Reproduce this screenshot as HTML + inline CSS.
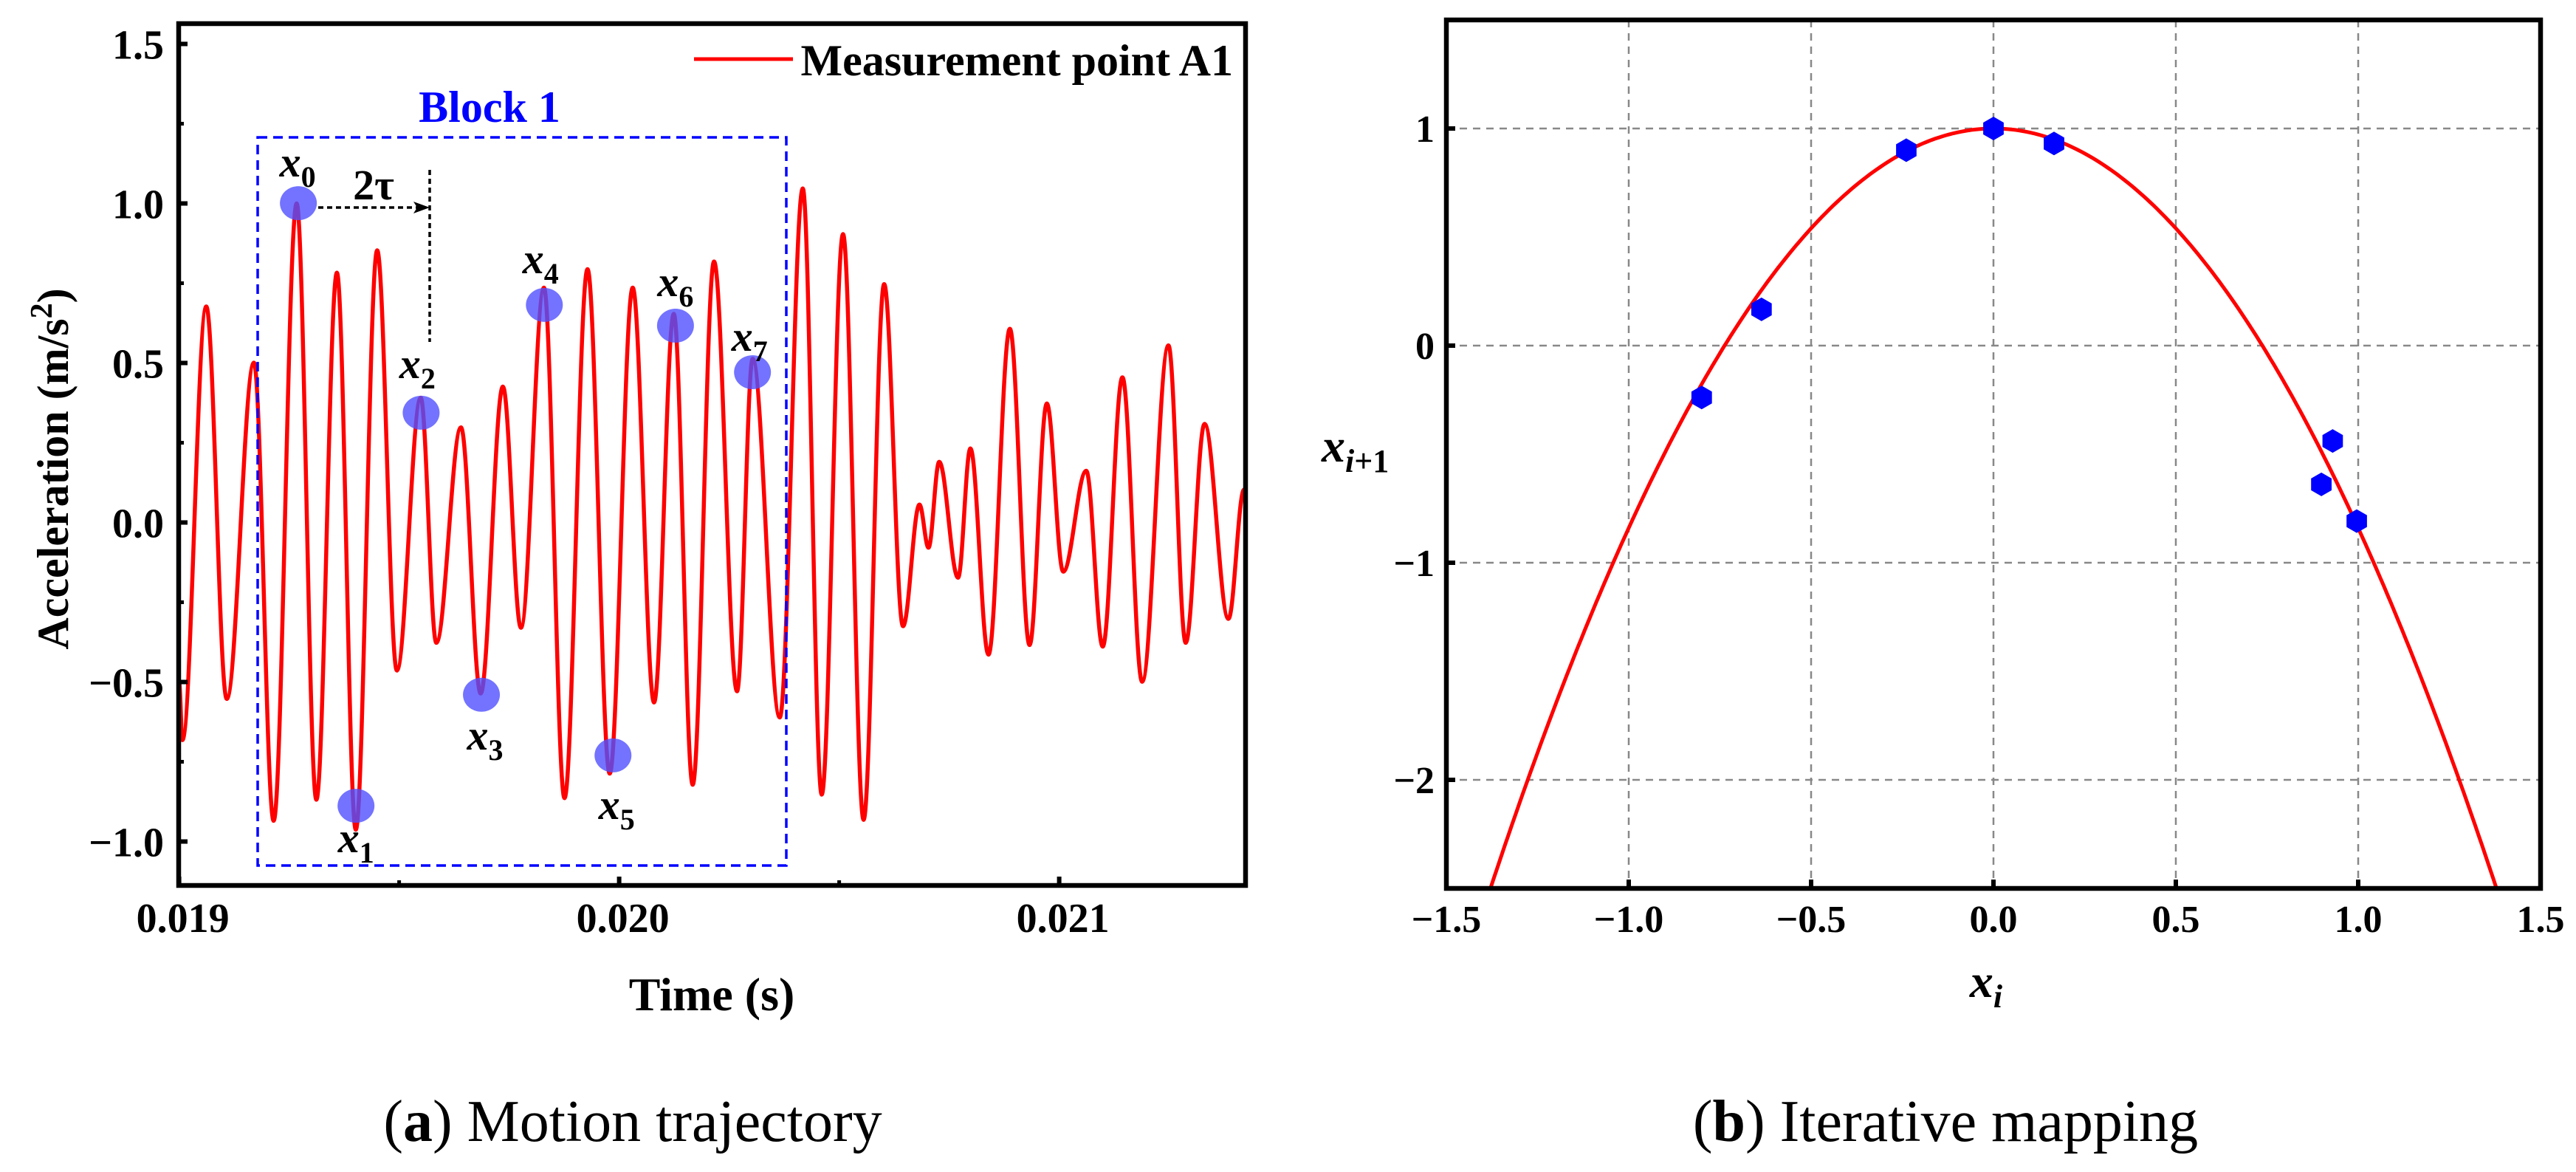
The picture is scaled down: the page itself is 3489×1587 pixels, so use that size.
<!DOCTYPE html>
<html><head><meta charset="utf-8"><style>
html,body{margin:0;padding:0;background:#fff;}
svg{display:block;font-family:"Liberation Serif",serif;}
</style></head><body>
<svg id="fig" width="3489" height="1587" viewBox="0 0 3489 1587" xmlns="http://www.w3.org/2000/svg">
<rect width="3489" height="1587" fill="#fff"/>
<g id="A"></g>
<g id="B"></g>
<text x="857" y="1545" font-size="80" text-anchor="middle">(<tspan font-weight="bold">a</tspan>) Motion trajectory</text>
<text x="2635" y="1545" font-size="80" text-anchor="middle">(<tspan font-weight="bold">b</tspan>) Iterative mapping</text>
</svg>
<script>
// ---- Chart A data ----
const sigTime = [19.000,19.0075,19.0617,19.1083,19.1700,19.2148,19.2671,19.3119,19.3586,19.4015,19.4501,19.4949,19.5490,19.5845,19.6405,19.6853,19.7358,19.7768,19.8291,19.8758,19.9281,19.9785,20.0308,20.0793,20.1241,20.1671,20.2156,20.2679,20.3034,20.3650,20.4173,20.4603,20.5088,20.5555,20.6022,20.6451,20.6825,20.7030,20.7273,20.7702,20.7982,20.8393,20.8879,20.9327,20.9719,21.0092,21.0615,21.0989,21.1437,21.1885,21.2483,21.2875,21.3304,21.3846,21.4201];
const sigValue = [-0.50,-0.682,0.677,-0.553,0.501,-0.935,1.000,-0.869,0.783,-0.963,0.853,-0.464,0.391,-0.377,0.298,-0.536,0.426,-0.330,0.736,-0.864,0.794,-0.787,0.736,-0.564,0.654,-0.822,0.818,-0.529,0.513,-0.611,1.047,-0.853,0.904,-0.932,0.747,-0.325,0.056,-0.079,0.190,-0.173,0.232,-0.414,0.607,-0.384,0.373,-0.154,0.162,-0.389,0.455,-0.499,0.555,-0.377,0.309,-0.302,0.103];
const sampleTime = [19.271,19.402,19.550,19.687,19.830,19.986,20.128,20.303];
const sampleValue = [1.001,-0.888,0.344,-0.540,0.682,-0.730,0.617,0.471];
const aYTicks = [-1.0,-0.5,0.0,0.5,1.0,1.5];
const aYLabels = ["\u22121.0","\u22120.5","0.0","0.5","1.0","1.5"];
const aXTicks = [19,20,21];
const aXLabels = ["0.019","0.020","0.021"];
// ---- Chart B data ----
const mapX = [-0.800,-0.636,-0.239,0.000,0.166,0.899,0.930,0.996];
const mapY = [-0.239,0.167,0.900,1.000,0.931,-0.639,-0.439,-0.808];
const fitCoef = [1, 0, -1.84];
const bXTicks = [-1.5,-1.0,-0.5,0.0,0.5,1.0,1.5];
const bXLabels = ["\u22121.5","\u22121.0","\u22120.5","0.0","0.5","1.0","1.5"];
const bYTicks = [-2,-1,0,1];
const bYLabels = ["\u22122","\u22121","0","1"];

const NS="http://www.w3.org/2000/svg";
function mk(parent,tag,attrs,text){const e=document.createElementNS(NS,tag);for(const k in attrs)e.setAttribute(k,attrs[k]);if(text!==undefined)e.textContent=text;parent.appendChild(e);return e;}

// ===== Chart A =====
const A=document.getElementById('A');
const aL=242,aR=1687,aT=32,aB=1199;
const ax=t=>242.6+(t-19)*596;
const ay=v=>707.5-v*432;
const aclip=mk(A,'clipPath',{id:'clipA'});
mk(aclip,'rect',{x:aL,y:aT,width:aR-aL,height:aB-aT});
let d='M'+ax(sigTime[0])+','+ay(sigValue[0]);
for(let i=1;i<sigTime.length;i++){
  const x1=ax(sigTime[i-1]),y1=ay(sigValue[i-1]),x2=ax(sigTime[i]),y2=ay(sigValue[i]);
  const dx=(x2-x1)*0.36;
  d+=' C'+(x1+dx)+','+y1+' '+(x2-dx)+','+y2+' '+x2+','+y2;
}
const sig=mk(A,'path',{d:d,fill:'none',stroke:'#ff0000','stroke-width':5.5,'clip-path':'url(#clipA)'});


const bb=mk(A,'rect',{x:349,y:186,width:716,height:986,fill:'none',stroke:'#0000ff','stroke-width':3.5,'stroke-dasharray':'13 8'});


const bt=mk(A,'text',{x:663,y:165,'font-size':60,'font-weight':'bold',fill:'#0000ff','text-anchor':'middle'},'Block 1');


const th=mk(A,'line',{x1:431,y1:281,x2:570,y2:281,stroke:'#000','stroke-width':3.5,'stroke-dasharray':'7 5'});


const ta=mk(A,'path',{d:'M582,281 L560,273 L565,281 L560,289 Z',fill:'#000'});


const tv=mk(A,'line',{x1:582,y1:230,x2:582,y2:463,stroke:'#000','stroke-width':3.5,'stroke-dasharray':'7 5'});


const tt=mk(A,'text',{x:506,y:270,'font-size':58,'font-weight':'bold','text-anchor':'middle'},'2\u03C4');


const labOff=[[-1,-54],[0,45],[-5,-65],[5,56],[-5,-61],[5,68],[0,-58],[-4,-47]];
for(let i=0;i<sampleTime.length;i++){
  const cx=ax(sampleTime[i]),cy=ay(sampleValue[i]);
  const c=mk(A,'ellipse',{cx:cx,cy:cy,rx:25,ry:23,fill:'#5050ff','fill-opacity':0.8});
  
  
  const lx=cx+labOff[i][0],ly=cy+labOff[i][1]+18;
  const t=mk(A,'text',{x:lx,y:ly,'font-size':58,'font-weight':'bold','font-style':'italic','text-anchor':'middle'});
  
  
  mk(t,'tspan',{},'x');
  mk(t,'tspan',{'font-size':40,'font-style':'normal',dy:14},String(i));
}
const abox=mk(A,'rect',{x:aL,y:aT,width:aR-aL,height:aB-aT,fill:'none',stroke:'#000','stroke-width':6.5});


for(let i=0;i<aYTicks.length;i++){
  const y=ay(aYTicks[i]);
  const tk=mk(A,'line',{x1:aL,y1:y,x2:aL+12,y2:y,stroke:'#000','stroke-width':6});
  
  
  const mn=mk(A,'line',{x1:aL,y1:ay(aYTicks[i]+0.25),x2:aL+7,y2:ay(aYTicks[i]+0.25),stroke:'#000','stroke-width':5});
  
  
  const lb=mk(A,'text',{x:222,y:y+20,'font-size':56,'font-weight':'bold','text-anchor':'end'},aYLabels[i]);
  
  
}
for(let i=0;i<aXTicks.length;i++){
  const x=ax(aXTicks[i]);
  const tk=mk(A,'line',{x1:x,y1:aB,x2:x,y2:aB-12,stroke:'#000','stroke-width':6});
  
  
  const mx=ax(aXTicks[i]+0.5);
  if(mx<aR){const mn=mk(A,'line',{x1:mx,y1:aB,x2:mx,y2:aB-7,stroke:'#000','stroke-width':5});
  
  }
  const lb=mk(A,'text',{x:x+5,y:1262,'font-size':56,'font-weight':'bold','text-anchor':'middle'},aXLabels[i]);
  
  
}
const axt=mk(A,'text',{x:964,y:1368,'font-size':64,'font-weight':'bold','text-anchor':'middle'},'Time (s)');


const ayt=mk(A,'text',{x:0,y:0,'font-size':60,'font-weight':'bold','text-anchor':'middle',transform:'translate(92,635) rotate(-90)'});


mk(ayt,'tspan',{},'Acceleration (m/s');
mk(ayt,'tspan',{'font-size':42,dy:-22},'2');
mk(ayt,'tspan',{dy:22},')');
const lgl=mk(A,'line',{x1:940,y1:80,x2:1074,y2:80,stroke:'#ff0000','stroke-width':5});


const lgt=mk(A,'text',{x:1670,y:102,'font-size':60,'font-weight':'bold','text-anchor':'end'},'Measurement point A1');



// ===== Chart B =====
const B=document.getElementById('B');
const bL=1959,bR=3441,bT=27,bB=1203;
const bx=v=>2700+v*494;
const by=v=>468-v*294;
const bclip=mk(B,'clipPath',{id:'clipB'});
mk(bclip,'rect',{x:bL,y:bT,width:bR-bL,height:bB-bT});
for(let i=1;i<bXTicks.length-1;i++){
  const g=mk(B,'line',{x1:bx(bXTicks[i]),y1:bT,x2:bx(bXTicks[i]),y2:bB,stroke:'#888','stroke-width':2.5,'stroke-dasharray':'10 8'});
  
  
}
for(let i=0;i<bYTicks.length;i++){
  const g=mk(B,'line',{x1:bL,y1:by(bYTicks[i]),x2:bR,y2:by(bYTicks[i]),stroke:'#888','stroke-width':2.5,'stroke-dasharray':'10 8'});
  
  
}
let pd='';
for(let k=0;k<=300;k++){
  const xv=-1.5+3*k/300;
  const yv=fitCoef[0]+fitCoef[1]*xv+fitCoef[2]*xv*xv;
  pd+=(k?' L':'M')+bx(xv).toFixed(1)+','+by(yv).toFixed(1);
}
const fc=mk(B,'path',{d:pd,fill:'none',stroke:'#ff0000','stroke-width':5,'clip-path':'url(#clipB)'});


for(let i=0;i<mapX.length;i++){
  const cx=bx(mapX[i]),cy=by(mapY[i]),r=16;
  let p='';
  for(let j=0;j<6;j++){const a=Math.PI/2+j*Math.PI/3;p+=(cx+r*Math.cos(a)).toFixed(1)+','+(cy+r*Math.sin(a)).toFixed(1)+' ';}
  const h=mk(B,'polygon',{points:p,fill:'#0000ff'});
  
  
}
const bbox=mk(B,'rect',{x:bL,y:bT,width:bR-bL,height:bB-bT,fill:'none',stroke:'#000','stroke-width':6.5});


for(let i=0;i<bXTicks.length;i++){
  const x=bx(bXTicks[i]);
  const tk=mk(B,'line',{x1:x,y1:bB,x2:x,y2:bB-12,stroke:'#000','stroke-width':6});
  
  
  const lb=mk(B,'text',{x:x,y:1262,'font-size':52,'font-weight':'bold','text-anchor':'middle'},bXLabels[i]);
  
  
}
for(let i=0;i<bYTicks.length;i++){
  const y=by(bYTicks[i]);
  const tk=mk(B,'line',{x1:bL,y1:y,x2:bL+12,y2:y,stroke:'#000','stroke-width':6});
  
  
  const lb=mk(B,'text',{x:1943,y:y+18,'font-size':52,'font-weight':'bold','text-anchor':'end'},bYLabels[i]);
  
  
}
const bxt=mk(B,'text',{x:2690,y:1350,'font-size':64,'font-weight':'bold','font-style':'italic','text-anchor':'middle'});


mk(bxt,'tspan',{},'x');
mk(bxt,'tspan',{'font-size':44,dy:14},'i');
const byt=mk(B,'text',{x:1790,y:625,'font-size':64,'font-weight':'bold','font-style':'italic'});


mk(byt,'tspan',{},'x');
mk(byt,'tspan',{'font-size':44,dy:14},'i');
mk(byt,'tspan',{'font-size':44,'font-style':'normal'},'+1');
</script>
</body></html>
